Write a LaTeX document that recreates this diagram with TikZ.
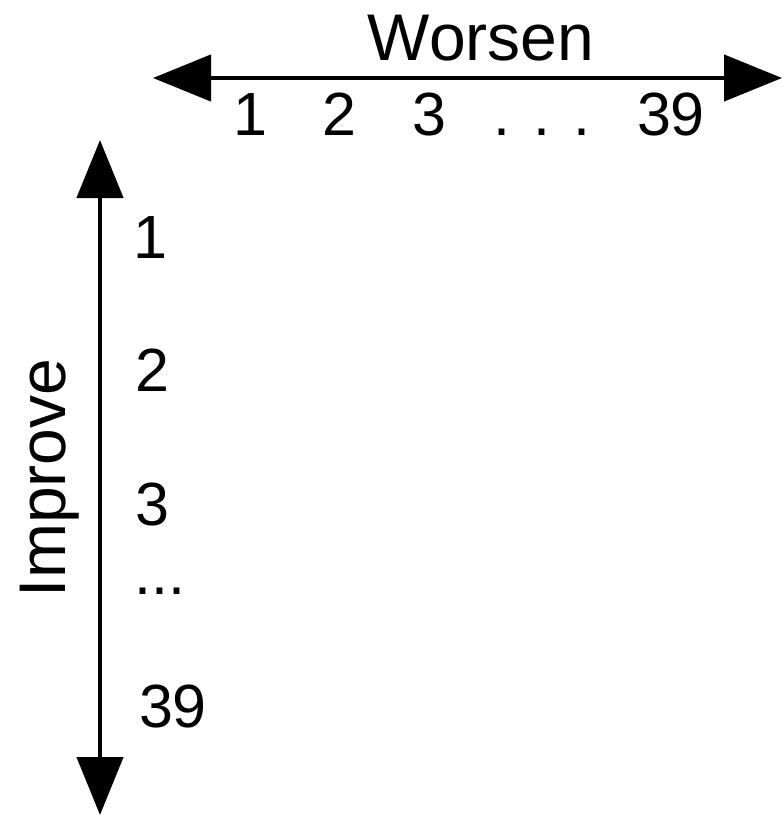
\documentclass[tikz,border=0pt]{standalone}
\usepackage{fontspec}
\setmainfont{Liberation Sans}
\usetikzlibrary{arrows.meta}
\begin{document}
\begin{tikzpicture}[x=1pt,y=-1pt,
  axis/.style={line width=4.5pt,{Triangle[length=58pt,width=46pt]}-{Triangle[length=58pt,width=46pt]}},
  lbl/.style={inner sep=0pt,anchor=base,font=\fontsize{61}{63}\selectfont},
  title/.style={inner sep=0pt,anchor=base,font=\fontsize{66}{68}\selectfont}]
\path[use as bounding box] (0,0) rectangle (782,817);
\coordinate (hL) at (153,78);
\coordinate (hR) at (782,78);
\coordinate (vT) at (100,140);
\coordinate (vB) at (100,815);
\draw[axis] (hL) -- (hR);
\draw[axis] (vT) -- (vB);
\node[title] (worsen) at (481,60) {Worsen};
\node[title,rotate=90] (improve) at (65,478) {Improve};
\node[lbl] (h1) at (250,135) {1};
\node[lbl] (h2) at (339,135) {2};
\node[lbl] (h3) at (429,135) {3};
\node[lbl] (hd) at (542,135) {. . .};
\node[lbl] (h39) at (671,135) {39};
\node[lbl] (v1) at (150,258) {1};
\node[lbl] (v2) at (152,391) {2};
\node[lbl] (v3) at (152,525) {3};
\node[lbl] (vd) at (160,594) {...};
\node[lbl] (v39) at (173,727) {39};
\end{tikzpicture}
\end{document}
